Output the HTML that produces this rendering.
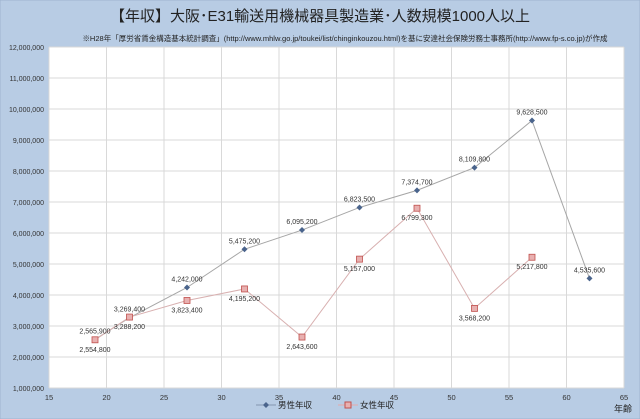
<!DOCTYPE html>
<html><head><meta charset="utf-8"><style>
body{margin:0;background:#b8cce4;}
svg{display:block;font-family:"Liberation Sans","Noto Sans CJK JP",sans-serif;}
</style></head><body>
<svg width="640" height="419">
<rect x="0" y="0" width="640" height="419" fill="#b8cce4" stroke="#9fb4cf"/>
<text x="320" y="21" text-anchor="middle" font-size="15" fill="#222">【年収】大阪･E31輸送用機械器具製造業･人数規模1000人以上</text>
<text x="345" y="41" text-anchor="middle" font-size="7.5" fill="#222">※H28年「厚労省賃金構造基本統計調査」(http://www.mhlw.go.jp/toukei/list/chinginkouzou.html)を基に安達社会保険労務士事務所(http://www.fp-s.co.jp)が作成</text>
<g id="plot"></g>
<text x="614" y="412" font-size="9" fill="#222">年齢</text>
<g>
<line x1="256" y1="405" x2="276" y2="405" stroke="#8496b0"/>
<path d="M266 402 L269 405 L266 408 L263 405Z" fill="#4a648c"/>
<text x="278" y="408" font-size="8.5" fill="#222">男性年収</text>
<line x1="338" y1="405" x2="358" y2="405" stroke="#e6a8a8"/>
<rect x="345" y="402" width="6" height="6" fill="#e8b0b0" stroke="#c0504d"/>
<text x="360" y="408" font-size="8.5" fill="#222">女性年収</text>
</g>
</svg>
<script>
const maleAges=[19,22,27,32,37,42,47,52,57,62];
const maleValues=[2565900,3269400,4242000,5475200,6095200,6823500,7374700,8109800,9628500,4535600];
const femaleAges=[19,22,27,32,37,42,47,52,57];
const femaleValues=[2554800,3288200,3823400,4195200,2643600,5157000,6799300,3568200,5217800];
const xTicks=[15,20,25,30,35,40,45,50,55,60,65];
const yTicks=[1e6,2e6,3e6,4e6,5e6,6e6,7e6,8e6,9e6,10e6,11e6,12e6];
const X0=49,X1=624,Y0=388,Y1=47;
const xs=v=>X0+(v-15)/50*(X1-X0);
const ys=v=>Y0-(v-1e6)/11e6*(Y0-Y1);
const NS="http://www.w3.org/2000/svg";
const g=document.getElementById('plot');
function mk(t,a){const e=document.createElementNS(NS,t);for(const k in a)e.setAttribute(k,a[k]);g.appendChild(e);return e;}
const fmt=v=>v.toLocaleString('en-US');
const bg=mk('rect',{x:X0,y:Y1,width:X1-X0,height:Y0-Y1,fill:'#fff'});


xTicks.forEach(t=>{
 const l=mk('line',{x1:xs(t),x2:xs(t),y1:Y1,y2:Y0,stroke:'#d9d9d9'});
 
 
 const tx=mk('text',{x:xs(t),y:Y0+12,'text-anchor':'middle','font-size':7.5,fill:'#333'});
 tx.textContent=t;
 
 
});
yTicks.forEach(t=>{
 const l=mk('line',{x1:X0,x2:X1,y1:ys(t),y2:ys(t),stroke:'#d9d9d9'});
 
 
 const tx=mk('text',{x:44,y:ys(t)+3,'text-anchor':'end','font-size':7,fill:'#333'});
 tx.textContent=fmt(t);
 
 
});
const mp=mk('polyline',{points:maleAges.map((a,i)=>xs(a)+','+ys(maleValues[i])).join(' '),fill:'none',stroke:'#a6a6a6','stroke-width':1});


const fp=mk('polyline',{points:femaleAges.map((a,i)=>xs(a)+','+ys(femaleValues[i])).join(' '),fill:'none',stroke:'#d8b0b0','stroke-width':1});


maleAges.forEach((a,i)=>{
 const x=xs(a),y=ys(maleValues[i]);
 const p=mk('path',{d:`M${x} ${y-3}L${x+3} ${y}L${x} ${y+3}L${x-3} ${y}Z`,fill:'#4a648c'});
 
 
 const t=mk('text',{x:x,y:y-6,'text-anchor':'middle','font-size':7,fill:'#333'});
 t.textContent=fmt(maleValues[i]);
 
 
});
femaleAges.forEach((a,i)=>{
 const x=xs(a),y=ys(femaleValues[i]);
 const p=mk('rect',{x:x-3,y:y-3,width:6,height:6,fill:'#e8b0b0',stroke:'#c0504d','stroke-width':0.8});
 
 
 const t=mk('text',{x:x,y:y+12,'text-anchor':'middle','font-size':7,fill:'#333'});
 t.textContent=fmt(femaleValues[i]);
 
 
});
</script>
</body></html>
